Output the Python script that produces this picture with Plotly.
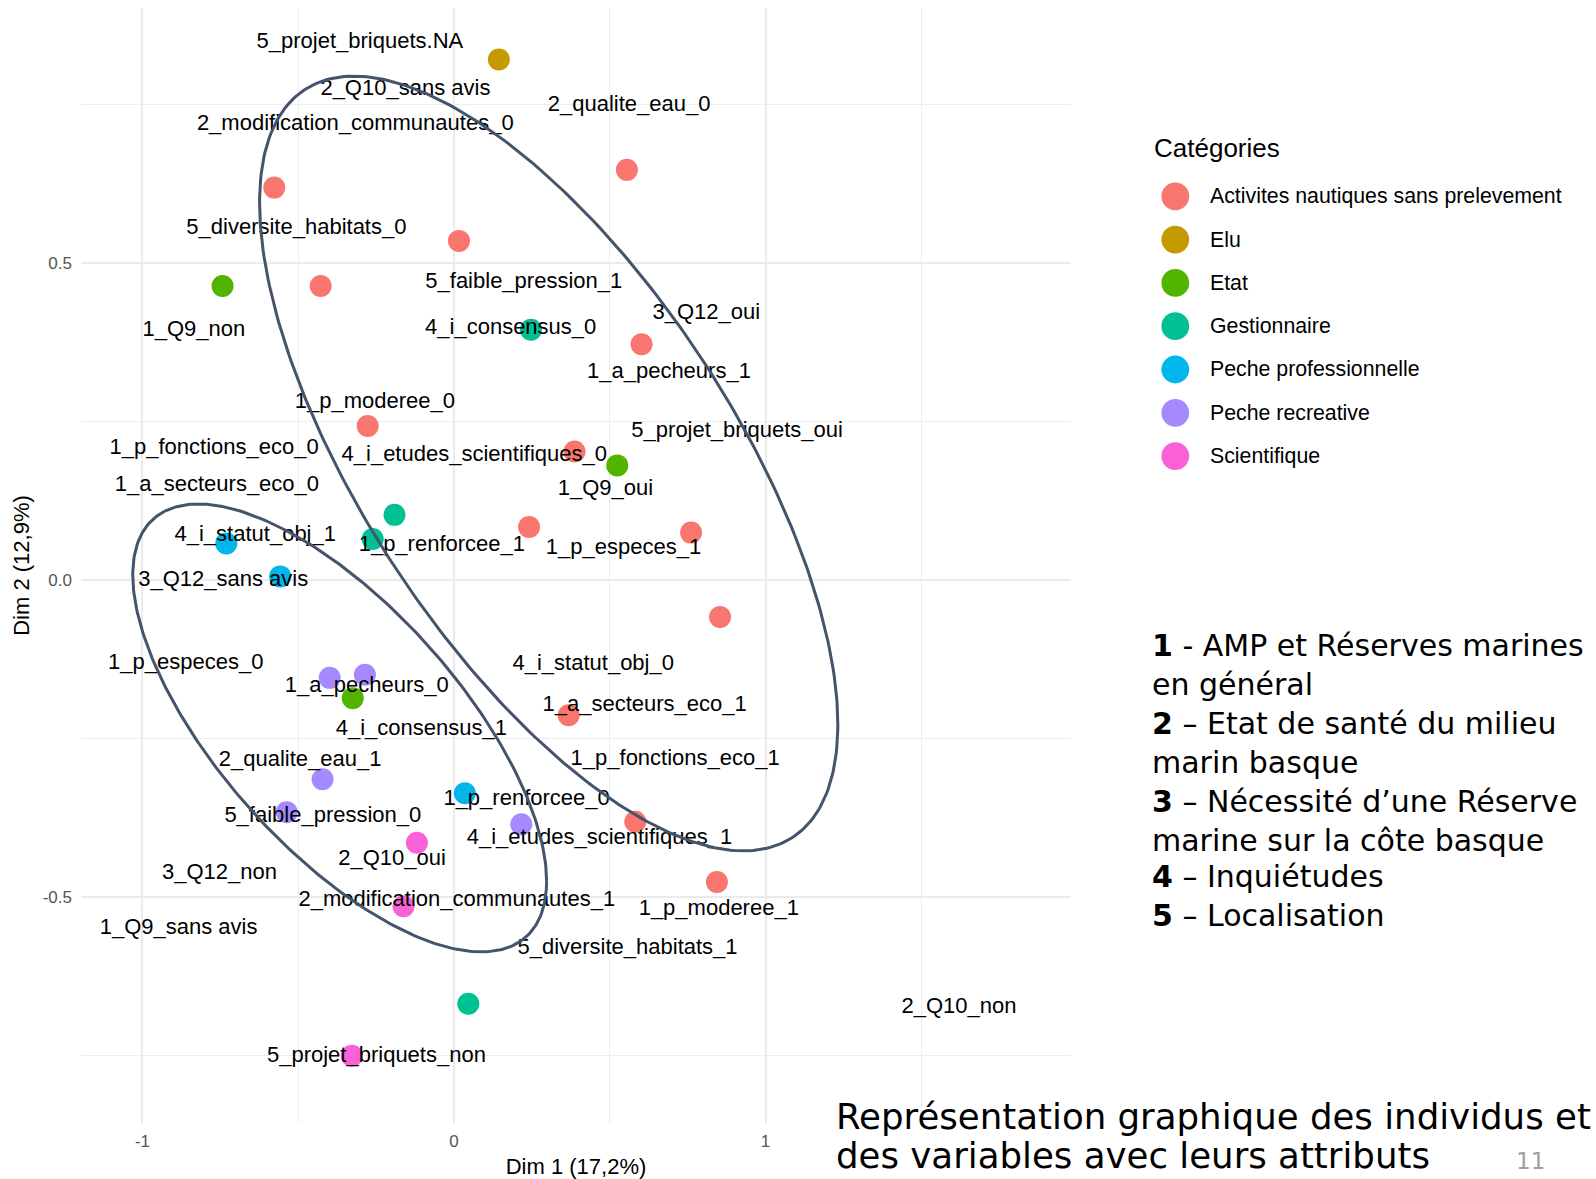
import numpy as np
import plotly.graph_objects as go

# ---------------- data ----------------
categories = ["Activites nautiques sans prelevement", "Elu", "Etat", "Gestionnaire",
              "Peche professionnelle", "Peche recreative", "Scientifique"]
cat_colors = ["#F8766D", "#C49A00", "#53B400", "#00C094", "#00B6EB", "#A58AFF", "#FB61D7"]

act_x = [-0.577, 0.555, 0.016, -0.428, 0.602, -0.277, 0.387, 0.241, 0.761, 0.854, 0.368, 0.582, 0.844]
act_y = [0.619, 0.647, 0.535, 0.464, 0.372, 0.243, 0.203, 0.084, 0.075, -0.058, -0.213, -0.381, -0.476]
elu_x = [0.144]
elu_y = [0.821]
etat_x = [-0.743, 0.524, -0.325]
etat_y = [0.464, 0.181, -0.186]
gest_x = [0.247, -0.191, -0.261, 0.046]
gest_y = [0.395, 0.103, 0.065, -0.668]
pro_x = [-0.731, -0.558, 0.035]
pro_y = [0.058, 0.006, -0.336]
rec_x = [-0.399, -0.286, -0.422, -0.537, 0.216]
rec_y = [-0.154, -0.149, -0.314, -0.366, -0.385]
sci_x = [-0.119, -0.162, -0.328]
sci_y = [-0.414, -0.514, -0.750]

var_names = ["5_projet_briquets.NA", "2_Q10_sans avis", "2_qualite_eau_0", "2_modification_communautes_0",
             "5_diversite_habitats_0", "5_faible_pression_1", "3_Q12_oui", "1_Q9_non", "4_i_consensus_0",
             "1_a_pecheurs_1", "1_p_moderee_0", "5_projet_briquets_oui", "1_p_fonctions_eco_0",
             "4_i_etudes_scientifiques_0", "1_Q9_oui", "1_a_secteurs_eco_0", "4_i_statut_obj_1",
             "1_p_renforcee_1", "1_p_especes_1", "3_Q12_sans avis", "1_p_especes_0", "4_i_statut_obj_0",
             "1_a_pecheurs_0", "1_a_secteurs_eco_1", "4_i_consensus_1", "1_p_fonctions_eco_1",
             "2_qualite_eau_1", "1_p_renforcee_0", "5_faible_pression_0", "4_i_etudes_scientifiques_1",
             "2_Q10_oui", "3_Q12_non", "2_modification_communautes_1", "1_p_moderee_1", "1_Q9_sans avis",
             "5_diversite_habitats_1", "2_Q10_non", "5_projet_briquets_non"]
var_x = [-0.302, -0.156, 0.562, -0.317, -0.506, 0.224, 0.810, -0.835, 0.182, 0.690, -0.254, 0.909,
         -0.770, 0.065, 0.486, -0.761, -0.638, -0.039, 0.544, -0.741, -0.861, 0.447, -0.280, 0.612,
         -0.105, 0.710, -0.494, 0.233, -0.421, 0.467, -0.199, -0.753, 0.009, 0.850, -0.884, 0.557,
         1.621, -0.249]
var_y = [0.848, 0.773, 0.749, 0.719, 0.555, 0.469, 0.421, 0.393, 0.397, 0.327, 0.280, 0.234,
         0.208, 0.196, 0.143, 0.150, 0.070, 0.054, 0.050, -0.001, -0.131, -0.133, -0.167, -0.197,
         -0.235, -0.282, -0.285, -0.346, -0.372, -0.408, -0.441, -0.462, -0.505, -0.520, -0.549, -0.580,
         -0.673, -0.751]

# ellipses (center, variance x, variance y, covariance) in data units
ell_cx = [0.304, -0.367]
ell_cy = [0.184, -0.233]
ell_sxx = [0.8614, 0.4412]
ell_syy = [0.3731, 0.1247]
ell_sxy = [-0.3819, -0.1604]

legend_notes = ["<b>1</b> - AMP et Réserves marines", "en général", "<b>2</b> – Etat de santé du milieu",
                "marin basque", "<b>3</b> – Nécessité d’une Réserve", "marine sur la côte basque",
                "<b>4</b> – Inquiétudes", "<b>5</b> – Localisation"]

# ---------------- layout geometry ----------------
W, H = 1596, 1179
ML, MR, MT, MB = 81, 525, 8, 56
PW, PH = W - ML - MR, H - MT - MB
XR = [-1.1974, 1.9807]
YR = [-0.8559, 0.9022]


def px2x(px):
    return (px - ML) / PW


def py2y(py):
    return (H - MB - py) / PH


LAB_FONT = "Liberation Sans, Arial, sans-serif"
NOTE_FONT = "DejaVu Sans, Verdana, sans-serif"

fig = go.Figure()

groups = [(act_x, act_y), (elu_x, elu_y), (etat_x, etat_y), (gest_x, gest_y),
          (pro_x, pro_y), (rec_x, rec_y), (sci_x, sci_y)]
for (gx, gy), name, col in zip(groups, categories, cat_colors):
    fig.add_trace(go.Scatter(x=gx, y=gy, mode="markers", name=name, showlegend=False,
                             marker=dict(size=22, color=col, line=dict(width=0))))

fig.add_trace(go.Scatter(x=var_x, y=var_y, mode="text", text=var_names, showlegend=False,
                         textposition="middle center",
                         textfont=dict(family=LAB_FONT, size=22, color="#000000"), hoverinfo="text"))

t = np.linspace(0, 2 * np.pi, 361)
for cx, cy, sxx, syy, sxy in zip(ell_cx, ell_cy, ell_sxx, ell_syy, ell_sxy):
    a = np.sqrt(sxx)
    b = np.sqrt(syy - sxy ** 2 / sxx)
    ex = cx + a * np.cos(t)
    ey = cy + (sxy / a) * np.cos(t) + b * np.sin(t)
    fig.add_trace(go.Scatter(x=ex, y=ey, mode="lines", showlegend=False, hoverinfo="skip",
                             line=dict(color="#44546A", width=3)))

# dashed reference lines
fig.add_shape(type="line", xref="x", yref="paper", x0=0, x1=0, y0=0, y1=1, layer="between",
              line=dict(color="#000000", width=1.5, dash="9px,5px"))
fig.add_shape(type="line", xref="paper", yref="y", x0=0, x1=1, y0=0, y1=0, layer="between",
              line=dict(color="#000000", width=1.5, dash="9px,5px"))

# manual legend
fig.add_annotation(xref="paper", yref="paper", x=px2x(1152), y=py2y(148), xanchor="left", yanchor="middle",
                   text="Catégories", showarrow=False, font=dict(family=LAB_FONT, size=26, color="#000000"))
for i, (name, col) in enumerate(zip(categories, cat_colors)):
    cy = 196.3 + i * 43.3
    r = 13.9
    fig.add_shape(type="circle", xref="paper", yref="paper", x0=px2x(1175.3 - r), x1=px2x(1175.3 + r),
                  y0=py2y(cy + r), y1=py2y(cy - r), fillcolor=col, line=dict(width=0))
    fig.add_annotation(xref="paper", yref="paper", x=px2x(1208), y=py2y(cy), xanchor="left", yanchor="middle",
                       text=name, showarrow=False, font=dict(family=LAB_FONT, size=21.3, color="#000000"))

# right side notes
note_y = [646, 685, 724, 762, 801, 840, 877, 915]
for txt, ny in zip(legend_notes, note_y):
    fig.add_annotation(xref="paper", yref="paper", x=px2x(1150), y=py2y(ny), xanchor="left", yanchor="middle",
                       text=txt, showarrow=False, font=dict(family=NOTE_FONT, size=30, color="#000000"))

fig.add_annotation(xref="paper", yref="paper", x=px2x(834), y=py2y(1116), xanchor="left", yanchor="middle",
                   text="Représentation graphique des individus et", showarrow=False,
                   font=dict(family=NOTE_FONT, size=35.6, color="#000000"))
fig.add_annotation(xref="paper", yref="paper", x=px2x(834), y=py2y(1155), xanchor="left", yanchor="middle",
                   text="des variables avec leurs attributs", showarrow=False,
                   font=dict(family=NOTE_FONT, size=35.6, color="#000000"))
fig.add_annotation(xref="paper", yref="paper", x=px2x(1530), y=py2y(1161), xanchor="center", yanchor="middle",
                   text="11", showarrow=False, font=dict(family=NOTE_FONT, size=23, color="#A0A0A0"))

fig.update_layout(
    width=W, height=H,
    margin=dict(l=ML, r=MR, t=MT, b=MB, autoexpand=False),
    paper_bgcolor="white", plot_bgcolor="white",
    showlegend=False,
    font=dict(family=LAB_FONT),
    xaxis=dict(range=XR, tickvals=[-1, 0, 1], ticktext=["-1", "0", "1"], showgrid=True,
               gridcolor="#EBEBEB", gridwidth=1.6, zeroline=False, showline=False, ticks="",
               tickfont=dict(family=LAB_FONT, size=17, color="#555555"), ticklabelstandoff=6,
               minor=dict(tickvals=[-0.5, 0.5, 1.5], showgrid=True, gridcolor="#EDEDED", gridwidth=1.1),
               title=dict(text="Dim 1 (17,2%)", font=dict(family=LAB_FONT, size=22, color="#000000"), standoff=8),
               automargin=False),
    yaxis=dict(range=YR, tickvals=[-0.5, 0, 0.5], ticktext=["-0.5", "0.0", "0.5"], showgrid=True,
               gridcolor="#EBEBEB", gridwidth=1.6, zeroline=False, showline=False, ticks="",
               tickfont=dict(family=LAB_FONT, size=17, color="#555555"), ticklabelstandoff=8,
               minor=dict(tickvals=[-0.75, -0.25, 0.25, 0.75], showgrid=True, gridcolor="#EDEDED", gridwidth=1.1),
               title=dict(text="Dim 2 (12,9%)", font=dict(family=LAB_FONT, size=22, color="#000000"), standoff=7),
               automargin=False),
)

fig.write_html("out.html", config={"displayModeBar": False},
               post_script="document.body.style.margin='0px';")
